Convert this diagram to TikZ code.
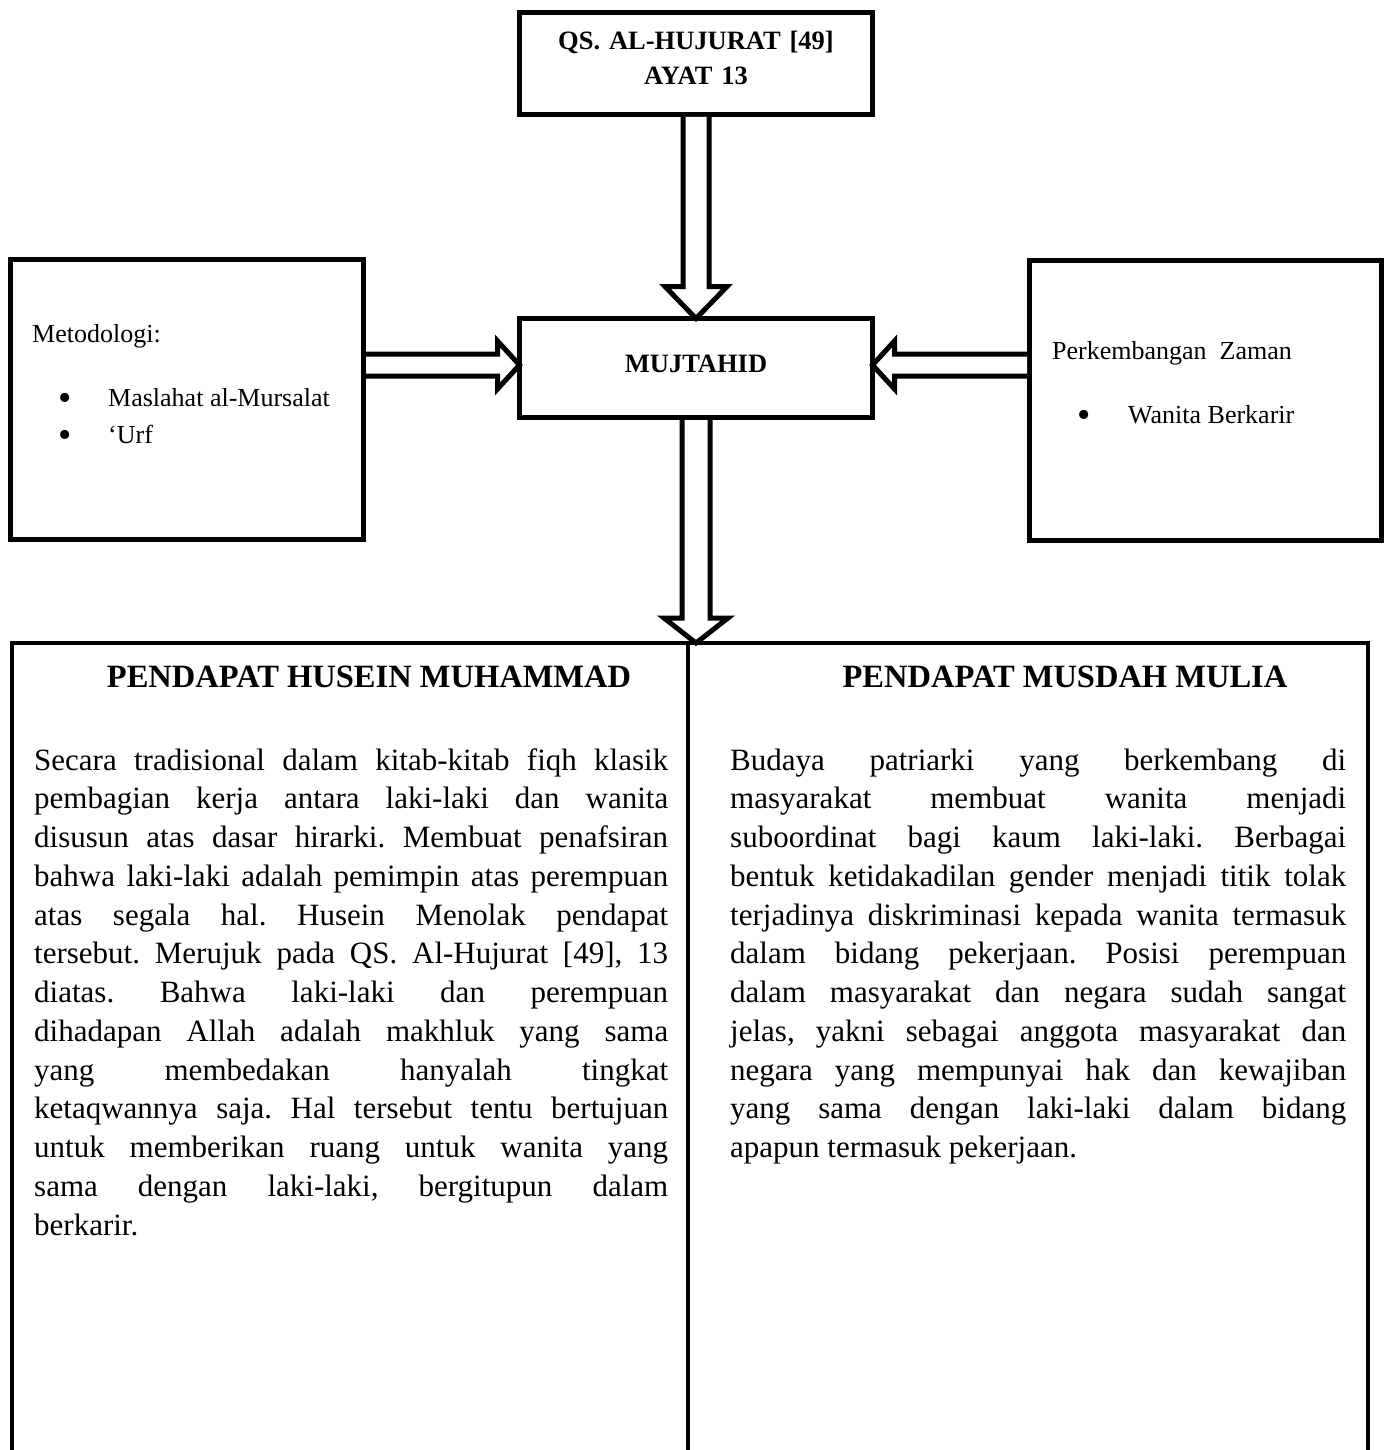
\documentclass[tikz,border=0pt]{standalone}
\usepackage{fontspec}
\setmainfont{Liberation Serif}
\usetikzlibrary{calc}
\tikzset{
 box/.style={draw, line width=5pt, fill=white, inner sep=0pt, outer sep=0pt},
 bigbox/.style={draw, line width=4.5pt, inner sep=0pt, outer sep=0pt},
 blockarrow/.style={draw, line width=5pt, fill=white, line join=miter},
 btxt/.style={font=\fontsize{26.5}{35}\selectfont\bfseries, inner sep=0pt, anchor=base},
 stxt/.style={font=\fontsize{26}{32}\selectfont, inner sep=0pt, anchor=base west},
 bul/.style={font=\fontsize{38}{38}\selectfont, inner sep=0pt, anchor=base},
 head/.style={font=\fontsize{32.5}{38}\selectfont\bfseries, inner sep=0pt, anchor=base},
 para/.style={font=\fontsize{31}{38.75}\selectfont\frenchspacing, inner sep=0pt, anchor=base west},
}
\newcommand\jl[2]{\hbox to #1{\spaceskip=0.25em plus 4em minus 0.06em\relax #2}}
\begin{document}
\begin{tikzpicture}[x=1pt,y=-1pt]
\useasboundingbox (0,0) rectangle (1392,1450);
\clip (0,0) rectangle (1392,1450);
% boxes
\node[box, minimum width=353pt, minimum height=102pt] (qs) at (696,63.5) {};
\node[box, minimum width=353pt, minimum height=99pt] (mj) at (696,368) {};
\node[box, minimum width=353pt, minimum height=280pt] (metod) at (187,399.5) {};
\node[box, minimum width=352pt, minimum height=280pt] (zaman) at (1205.5,400) {};
\node[bigbox, minimum width=676pt, minimum height=860pt, anchor=north west] (husein) at (12,643) {};
\node[bigbox, minimum width=680pt, minimum height=860pt, anchor=north west] (musdah) at (688,643) {};
% block arrows
\draw[blockarrow] ($(qs.south)+(-13,2.5)$) -- ($(mj.north)+(-13,-32)$) -- ($(mj.north)+(-31,-32)$) -- (mj.north) -- ($(mj.north)+(31,-32)$) -- ($(mj.north)+(13,-32)$) -- ($(qs.south)+(13,2.5)$);
\draw[blockarrow] ($(mj.south)+(-14,2.5)$) -- ($(mj.south |- husein.north)+(-14,-25)$) -- ($(mj.south |- husein.north)+(-32,-25)$) -- (mj.south |- husein.north) -- ($(mj.south |- husein.north)+(32,-25)$) -- ($(mj.south |- husein.north)+(14,-25)$) -- ($(mj.south)+(14,2.5)$);
\draw[blockarrow] ($(metod.east |- mj.west)+(2.5,-14)$) -- ($(mj.west)+(-22,-14)$) -- ($(mj.west)+(-22,-27)$) -- ($(mj.west)+(0,-3)$) -- ($(mj.west)+(-22,21)$) -- ($(mj.west)+(-22,8)$) -- ($(metod.east |- mj.west)+(2.5,8)$);
\draw[blockarrow] ($(zaman.west |- mj.east)+(-2.5,-14)$) -- ($(mj.east)+(22,-14)$) -- ($(mj.east)+(22,-27)$) -- ($(mj.east)+(0,-3)$) -- ($(mj.east)+(22,21)$) -- ($(mj.east)+(22,8)$) -- ($(zaman.west |- mj.east)+(-2.5,8)$);
% texts
\node[btxt, text width=353pt, align=center] (qst) at (696,50) {QS. AL-HUJURAT [49]\\AYAT 13};
\node[btxt] (mjt) at (696,372) {MUJTAHID};
\node[stxt] (m1) at (32,342) {Metodologi:};
\node[bul] (b1) at (65,410) {•};
\node[stxt] (m2) at (108,406) {Maslahat al-Mursalat};
\node[bul] (b2) at (65,447) {•};
\node[stxt] (m3) at (108,443) {`Urf};
\node[stxt] (z1) at (1052,359) {Perkembangan~~Zaman};
\node[bul] (b3) at (1084,427) {•};
\node[stxt] (z2) at (1128,423) {Wanita Berkarir};
\node[head] (h1) at (369,687) {PENDAPAT HUSEIN MUHAMMAD};
\node[head] (h2) at (1065,687) {PENDAPAT MUSDAH MULIA};
\node[para] (p1) at (34,770) {\vtop{%
\jl{634pt}{Secara tradisional dalam kitab-kitab fiqh klasik}
\jl{634pt}{pembagian kerja antara laki-laki dan wanita}
\jl{634pt}{disusun atas dasar hirarki. Membuat penafsiran}
\jl{634pt}{bahwa laki-laki adalah pemimpin atas perempuan}
\jl{634pt}{atas segala hal. Husein Menolak pendapat}
\jl{634pt}{tersebut. Merujuk pada QS. Al-Hujurat [49], 13}
\jl{634pt}{diatas. Bahwa laki-laki dan perempuan}
\jl{634pt}{dihadapan Allah adalah makhluk yang sama}
\jl{634pt}{yang membedakan hanyalah tingkat}
\jl{634pt}{ketaqwannya saja. Hal tersebut tentu bertujuan}
\jl{634pt}{untuk memberikan ruang untuk wanita yang}
\jl{634pt}{sama dengan laki-laki, bergitupun dalam}
\hbox{berkarir.}}};
\node[para] (p2) at (730,770) {\vtop{%
\jl{616pt}{Budaya patriarki yang berkembang di}
\jl{616pt}{masyarakat membuat wanita menjadi}
\jl{616pt}{suboordinat bagi kaum laki-laki. Berbagai}
\jl{616pt}{bentuk ketidakadilan gender menjadi titik tolak}
\jl{616pt}{terjadinya diskriminasi kepada wanita termasuk}
\jl{616pt}{dalam bidang pekerjaan. Posisi perempuan}
\jl{616pt}{dalam masyarakat dan negara sudah sangat}
\jl{616pt}{jelas, yakni sebagai anggota masyarakat dan}
\jl{616pt}{negara yang mempunyai hak dan kewajiban}
\jl{616pt}{yang sama dengan laki-laki dalam bidang}
\hbox{apapun termasuk pekerjaan.}}};
\end{tikzpicture}
\end{document}
